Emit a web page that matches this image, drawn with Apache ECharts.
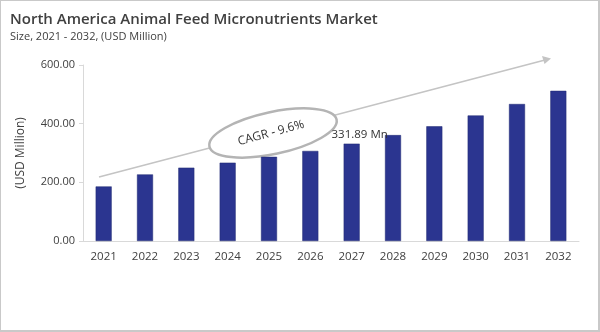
<!DOCTYPE html>
<html><head><meta charset="utf-8">
<script src="https://cdn.jsdelivr.net/npm/echarts@6/dist/echarts.min.js"></script>
<style>
html,body{margin:0;padding:0;background:#fff;}
#c{width:600px;height:332px;box-sizing:border-box;border:2px solid #c9c9c9;border-top-width:1px;border-left-width:1px;}
</style></head>
<body><div id="c"></div>
<script>
const categories = ['2021','2022','2023','2024','2025','2026','2027','2028','2029','2030','2031','2032'];
const values = [186, 227, 250, 267, 287, 307, 331.89, 361, 391, 428, 467, 512];
const yTicks = [0, 200, 400, 600];
const titleText = 'North America Animal Feed Micronutrients Market';
const subtitleText = 'Size, 2021 - 2032, (USD Million)';
const cagrText = 'CAGR - 9.6%';
const highlightIndex = 6;

const chart = echarts.init(document.getElementById('c'), null, {renderer:'canvas'});
const font = 'Open Sans';
const deg = Math.PI/180;
chart.setOption({
  animation:false,
  title:{text:titleText, subtext:subtitleText, left:4, top:6,
    textStyle:{fontFamily:font, fontSize:15, fontWeight:600, color:'#404040'},
    subtextStyle:{fontFamily:font, fontSize:11, color:'#404040'}, itemGap:4},
  grid:{left:82, right:19, top:64, bottom:89, containLabel:false},
  xAxis:{type:'category', data:categories,
    axisLine:{lineStyle:{color:'#d9d9d9'}}, axisTick:{show:false},
    axisLabel:{fontFamily:font, fontSize:11.5, color:'#404040', margin:10}},
  yAxis:{type:'value', min:yTicks[0], max:yTicks[yTicks.length-1], interval:200,
    name:'(USD Million)', nameLocation:'middle', nameGap:56, nameRotate:90,
    nameTextStyle:{fontFamily:font, fontSize:12, color:'#404040'},
    splitLine:{show:false},
    axisLine:{show:true, lineStyle:{color:'#d9d9d9'}}, axisTick:{show:true, length:4, lineStyle:{color:'#d9d9d9'}},
    axisLabel:{fontFamily:font, fontSize:11, color:'#404040', margin:8, formatter:v=>v.toFixed(2)}},
  series:[{type:'bar', barWidth:16,
    data: values.map((v,i)=> i===highlightIndex ? {value:v, label:{show:true, position:'top', distance:3, offset:[8,0],
      formatter:p=>p.value.toFixed(2)+' Mn', fontFamily:font, fontSize:11.5, color:'#333'}} : v),
    itemStyle:{color:'#2b3590', borderColor:'#1f2870', borderWidth:0.5}}],
  graphic:[
    {type:'line', shape:{x1:98,y1:176,x2:544,y2:59}, style:{stroke:'#c4c4c4', lineWidth:1.5}, silent:true},
    {type:'polygon', shape:{points:[[550,57.5],[541,55],[543.5,63]]}, style:{fill:'#c4c4c4'}, silent:true},
    {type:'ellipse', shape:{cx:272, cy:132, rx:65, ry:21}, originX:272, originY:132, rotation:12*deg,
      style:{fill:'#fff', stroke:'#b4b4b4', lineWidth:2.5}, silent:true},
    {type:'text', x:270, y:132, rotation:15*deg,
      style:{text:cagrText, fontFamily:font, fontSize:12, fill:'#333', align:'center', verticalAlign:'middle'}, silent:true}
  ]
});
</script></body></html>
